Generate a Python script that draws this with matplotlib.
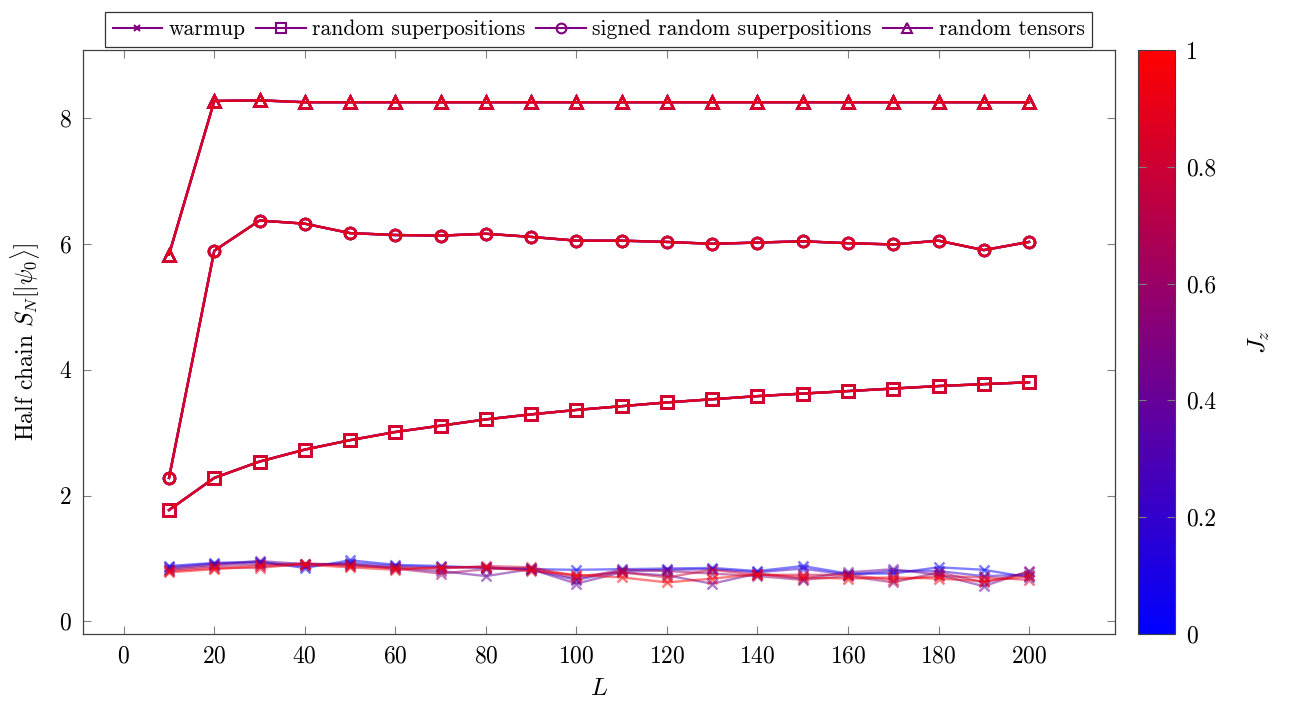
import numpy as np
import matplotlib
matplotlib.use("Agg")
import matplotlib.pyplot as plt
from matplotlib.colors import LinearSegmentedColormap, Normalize
from matplotlib.cm import ScalarMappable
from matplotlib.lines import Line2D

plt.rcParams["font.family"] = ["cmr10", "DejaVu Serif"]
plt.rcParams["mathtext.fontset"] = "cm"
plt.rcParams["axes.formatter.use_mathtext"] = True

# chain lengths
L = [10, 20, 30, 40, 50, 60, 70, 80, 90, 100,
     110, 120, 130, 140, 150, 160, 170, 180, 190, 200]

jz_values = [0.0, 0.2, 0.4, 0.6, 0.8, 1.0]

# warmup entropies, one list per J_z
warmup = [
    [0.88, 0.93, 0.95, 0.85, 0.97, 0.90, 0.88, 0.85, 0.83, 0.82, 0.83, 0.84, 0.85, 0.80, 0.88, 0.76, 0.76, 0.86, 0.82, 0.70],
    [0.86, 0.92, 0.93, 0.88, 0.93, 0.88, 0.86, 0.86, 0.82, 0.66, 0.80, 0.82, 0.83, 0.78, 0.84, 0.74, 0.80, 0.80, 0.72, 0.74],
    [0.84, 0.90, 0.96, 0.91, 0.91, 0.85, 0.80, 0.72, 0.83, 0.60, 0.78, 0.73, 0.60, 0.76, 0.68, 0.78, 0.83, 0.74, 0.56, 0.80],
    [0.82, 0.88, 0.90, 0.92, 0.90, 0.84, 0.76, 0.83, 0.85, 0.68, 0.82, 0.80, 0.76, 0.72, 0.66, 0.72, 0.62, 0.78, 0.62, 0.78],
    [0.80, 0.85, 0.85, 0.92, 0.88, 0.86, 0.84, 0.88, 0.86, 0.72, 0.78, 0.70, 0.82, 0.74, 0.74, 0.74, 0.66, 0.72, 0.70, 0.66],
    [0.78, 0.83, 0.88, 0.90, 0.86, 0.82, 0.86, 0.86, 0.80, 0.74, 0.70, 0.62, 0.68, 0.75, 0.70, 0.68, 0.70, 0.68, 0.64, 0.72],
]

random_sup = [1.77, 2.28, 2.54, 2.73, 2.88, 3.01, 3.11, 3.21, 3.29, 3.36,
              3.42, 3.48, 3.53, 3.58, 3.62, 3.66, 3.70, 3.74, 3.77, 3.80]
signed_sup = [2.28, 5.89, 6.37, 6.32, 6.17, 6.14, 6.13, 6.16, 6.11, 6.05,
              6.05, 6.03, 6.00, 6.02, 6.04, 6.01, 5.99, 6.05, 5.90, 6.03]
random_tensors = [5.83, 8.27, 8.28, 8.25, 8.25, 8.25, 8.25, 8.25, 8.25, 8.25,
                  8.25, 8.25, 8.25, 8.25, 8.25, 8.25, 8.25, 8.25, 8.25, 8.25]

labels = ["warmup", "random superpositions", "signed random superpositions", "random tensors"]
markers = ["x", "s", "o", "^"]

cmap = LinearSegmentedColormap.from_list("bluered", [(0, 0, 1), (1, 0, 0)])
norm = Normalize(0, 1)

fig = plt.figure(figsize=(12.97, 7.11), dpi=100)
ax = fig.add_axes([0.064, 0.1083, 0.7957, 0.8214])
cax = fig.add_axes([0.8774, 0.1083, 0.0285, 0.8214])

lw = 1.7
for jz, w in zip(jz_values, warmup):
    c = cmap(norm(jz))
    ax.plot(L, w, color=c, alpha=0.5, lw=lw, marker="x", ms=7, mew=1.8)
for jz in jz_values:
    c = cmap(norm(jz))
    for vals, m in zip([random_sup, signed_sup, random_tensors], markers[1:]):
        ax.plot(L, vals, color=c, alpha=0.6, lw=lw, marker=m, ms=8,
                mfc="none", mew=1.8)

ax.set_xlim(-9, 219)
ax.set_ylim(-0.2, 9.08)
ax.set_xticks(np.arange(0, 201, 20))
ax.set_yticks([0, 2, 4, 6, 8])
ax.tick_params(direction="in", length=6, width=0.8, color="#808080",
               top=True, right=True, labelsize=17, pad=8)
for s in ax.spines.values():
    s.set_color("#404040")
    s.set_linewidth(0.9)
ax.set_xlabel("$L$", fontsize=18, labelpad=8)
ax.set_ylabel(r"Half chain $S_N[|\psi_0\rangle]$", fontsize=17, labelpad=12)

purple = cmap(0.5)
handles = [Line2D([], [], color=purple, lw=1.5, marker=m, ms=7 if m != "x" else 5,
                  mfc="none", mew=1.5) for m in markers]
leg = fig.legend(handles, labels, loc="upper center", ncol=4,
                 bbox_to_anchor=(0.4615, 0.998), fontsize=15.5, frameon=True,
                 fancybox=False, edgecolor="black", handlelength=2.3,
                 handletextpad=0.3, columnspacing=0.5, borderpad=0.35)
leg.get_frame().set_linewidth(0.9)

cb = fig.colorbar(ScalarMappable(norm=norm, cmap=cmap), cax=cax)
cb.set_ticks([0, 0.2, 0.4, 0.6, 0.8, 1])
cb.set_ticklabels(["0", "0.2", "0.4", "0.6", "0.8", "1"])
cax.tick_params(direction="in", length=6, width=0.8, color="#808080",
                left=True, right=True, labelsize=17, pad=8)
cb.outline.set_edgecolor("#404040")
cb.set_label("$J_z$", fontsize=18, labelpad=22)

fig.savefig("out.png", dpi=100)
